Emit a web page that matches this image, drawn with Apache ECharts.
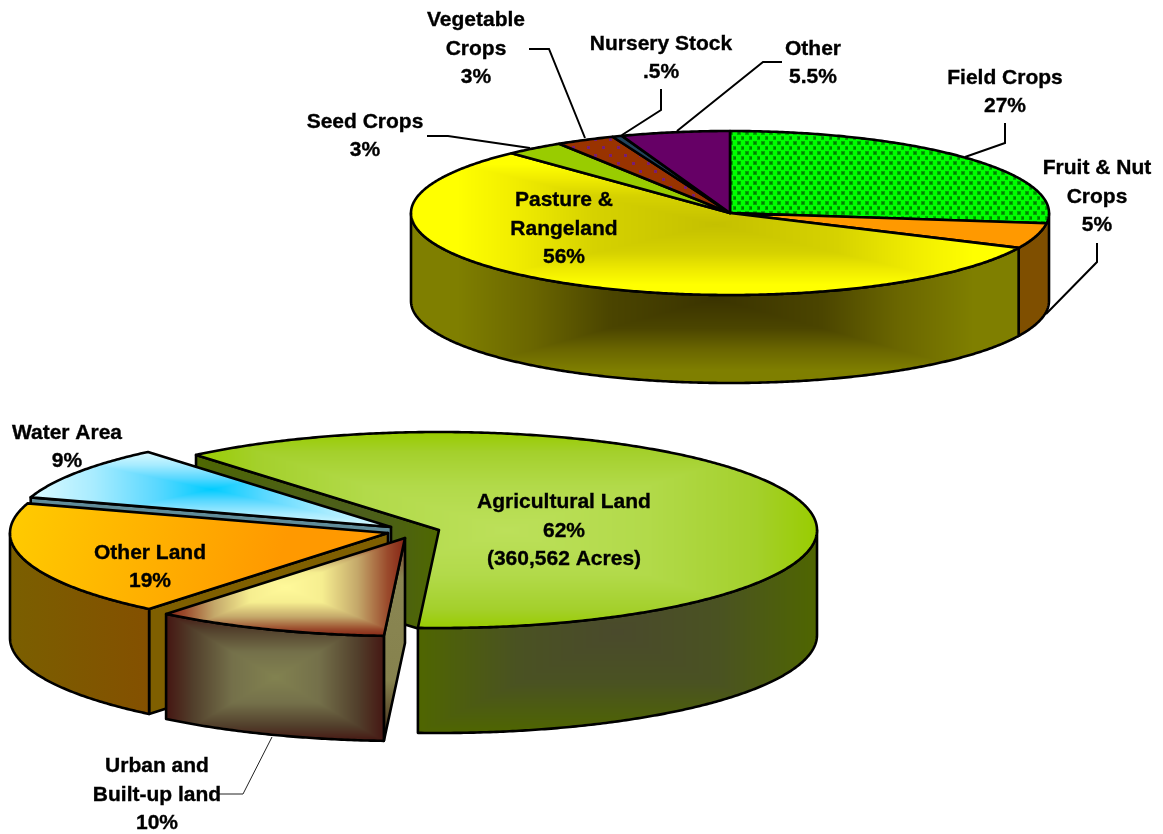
<!DOCTYPE html>
<html>
<head>
<meta charset="utf-8">
<title>Land use pies</title>
<script src="https://cdn.jsdelivr.net/npm/echarts@6/dist/echarts.min.js"></script>
<style>
  html, body { margin: 0; padding: 0; background: #fff; }
  #chart { width: 1163px; height: 834px; }
</style>
</head>
<body>
<div id="chart"></div>
<script>
// values, clockwise from each pie's start angle
const cropNames = ['Field Crops', 'Fruit & Nut\nCrops', 'Pasture &\nRangeland', 'Seed Crops', 'Vegetable\nCrops', 'Nursery Stock', 'Other'];
const cropValues = [27, 5, 56, 3, 3, 0.5, 5.5];
const landNames = ['Agricultural Land', 'Urban and\nBuilt-up land', 'Other Land', 'Water Area'];
const landValues = [62, 10, 19, 9];
const landNotes = ['(360,562 Acres)', '', '', ''];

// layout, kept away from the data
const cropLabelPos = [[1005, 92], [1097, 197], [564, 229], [365, 136], [476, 49], [661, 58], [813, 63]];
const cropLeaders = [
  [[1005, 123], [1005, 143], [965, 157]],
  [[1097, 243], [1097, 262], [1046, 314]],
  null,
  [[427, 136], [448, 136], [530, 148]],
  [[529, 49], [549, 49], [585, 138]],
  [[661, 89], [661, 110], [622, 135]],
  [[782, 62], [763, 62], [677, 131]]
];
const landLabelPos = [[564, 531], [157, 795], [150, 567], [67, 447]];
const landLeaders = [null, [[218, 794], [243, 794], [272, 737]], null, null];

const OUTLINE = '#000';
const PAGE_W = 1163, PAGE_H = 834;

function hexRgb(h) {
  return [1, 3, 5].map(i => parseInt(h.substr(i, 2), 16));
}

// office style "path" gradient: t runs 0 at the box centre to 1 at the box edge
function pathShade(pts, stops) {
  const xs = pts.map(p => p[0]), ys = pts.map(p => p[1]);
  const x0 = Math.floor(Math.min(...xs)), x1 = Math.ceil(Math.max(...xs));
  const y0 = Math.floor(Math.min(...ys)), y1 = Math.ceil(Math.max(...ys));
  const cx = (x0 + x1) / 2, cy = (y0 + y1) / 2, hw = (x1 - x0) / 2, hh = (y1 - y0) / 2;
  const cv = document.createElement('canvas');
  cv.width = PAGE_W; cv.height = PAGE_H;
  const ctx = cv.getContext('2d');
  const img = ctx.createImageData(x1 - x0 + 1, y1 - y0 + 1);
  const rgb = stops.map(s => hexRgb(s[1]));
  let n = 0;
  for (let y = y0; y <= y1; y++) {
    for (let x = x0; x <= x1; x++) {
      const t = Math.min(1, Math.max(Math.abs(x - cx) / hw, Math.abs(y - cy) / hh));
      let k = 0;
      while (k < stops.length - 2 && t > stops[k + 1][0]) k++;
      const f = Math.min(1, (t - stops[k][0]) / (stops[k + 1][0] - stops[k][0]));
      for (let c = 0; c < 3; c++) img.data[n++] = rgb[k][c] + (rgb[k + 1][c] - rgb[k][c]) * f;
      img.data[n++] = 255;
    }
  }
  ctx.putImageData(img, x0, y0);
  return { image: cv, repeat: 'no-repeat' };
}

function dotTile(w, h, bg, dots, size, color, core) {
  const cv = document.createElement('canvas');
  cv.width = w; cv.height = h;
  const ctx = cv.getContext('2d');
  ctx.fillStyle = bg;
  ctx.fillRect(0, 0, w, h);
  dots.forEach(d => {
    ctx.fillStyle = color;
    ctx.fillRect(d[0], d[1], size, size);
    if (core) {
      ctx.fillStyle = core;
      ctx.fillRect(d[0] + 1, d[1] + 1, size - 2, size - 2);
    }
  });
  return { image: cv, repeat: 'repeat' };
}

function linear(x2, y2, stops) {
  return { type: 'linear', x: 0, y: 0, x2: x2, y2: y2, colorStops: stops.map(s => ({ offset: s[0], color: s[1] })) };
}

const cropTops = [
  dotTile(8, 10, '#00ff00', [[1, 1], [5, 6]], 4, '#00aa00', '#008000'),
  '#ff9900',
  { stops: [[0, '#c4c000'], [0.4, '#d6d200'], [0.65, '#f0ec00'], [0.85, '#ffff00'], [1, '#ffff00']] },
  '#99cc00',
  dotTile(15, 16, '#993300', [[2, 2], [9, 10]], 3, '#7a1f70', '#6a1a80'),
  '#22445c',
  '#660066'
];
const cropWalls = [
  null,
  '#7f4f00',
  { stops: [[0, '#3a3300'], [0.35, '#4b4500'], [0.6, '#6a6600'], [0.85, '#7f7f00'], [1, '#7f7f00']] },
  null, null, null, null
];
// fruit wall also covers the sliver of field crop wall
const cropWallFrom = [null, 90];
const landTops = [
  { stops: [[0, '#bce05a'], [0.45, '#b2da4a'], [0.8, '#a4d02c'], [1, '#99cc00']] },
  { stops: [[0, '#fff99a'], [0.3, '#f6ee90'], [0.6, '#c4a86a'], [0.85, '#9a4a2c'], [1, '#862414']] },
  linear(1, 1, [[0, '#ffcc00'], [0.7, '#ff9900'], [1, '#ff9900']]),
  { stops: [[0, '#00ccff'], [0.3, '#5ad8ff'], [0.65, '#a8ecff'], [1, '#ddfaff']] }
];
const landWalls = [
  { stops: [[0, '#4a4a2c'], [0.5, '#4a5222'], [1, '#4f6600']] },
  { stops: [[0, '#828250'], [0.4, '#74704a'], [0.75, '#52402c'], [1, '#451612']] },
  linear(1, 0, [[0, '#7a5f00'], [1, '#845000']]),
  null
];
const landFaces = [
  { stops: [[0, '#4c5c26'], [0.6, '#4c6014'], [1, '#4f6800']] },
  linear(0, 1, [[0, '#7c3a28'], [0.2, '#8a8652'], [0.7, '#86824e'], [1, '#3e2414']]),
  '#7f5f00',
  '#608c99'
];

function resolveFill(spec, pts) {
  if (spec && spec.stops) return pathShade(pts, spec.stops);
  return spec;
}

// pts on the tilted rim; angle in degrees clockwise from 12 o'clock
function rim(g, deg, drop) {
  const r = deg * Math.PI / 180;
  return [g.cx + g.rx * Math.sin(r), g.cy - g.ry * Math.cos(r) + (drop || 0)];
}

function arcPts(g, a, b, drop) {
  const pts = [], n = Math.max(2, Math.ceil(Math.abs(b - a) * 2));
  for (let i = 0; i <= n; i++) pts.push(rim(g, a + (b - a) * i / n, drop));
  return pts;
}

function poly(pts, fill, z2) {
  return {
    type: 'polygon', z2: z2, shape: { points: pts },
    style: { fill: resolveFill(fill, pts), stroke: OUTLINE, lineWidth: 2.6, lineJoin: 'round' }
  };
}

function percent(v) {
  return String(v).replace(/^0\./, '.') + '%';
}

function makeRender(cfg) {
  const total = cfg.values.reduce((s, v) => s + v, 0);
  const built = {};
  return function (params, api) {
    const i = params.dataIndex;
    if (built[i]) return built[i];
    const before = cfg.values.slice(0, i).reduce((s, v) => s + v, 0);
    const a = cfg.start + before / total * 360;
    const b = a + api.value(0) / total * 360;
    const g = cfg.geo[i];
    const base = cfg.order[i] * 10;
    const kids = [];
    const apex = [g.cx, g.cy];

    // cut faces of pulled out slices
    if (cfg.faces && Math.sin(a * Math.PI / 180) < 0) {
      const r = rim(g, a), rd = rim(g, a, g.depth);
      kids.push(poly([apex, r, rd, [g.cx, g.cy + g.depth]], cfg.faces[i], base));
    }
    // outer wall, front half only
    if (cfg.walls[i]) {
      const from = cfg.wallFrom && cfg.wallFrom[i] != null ? cfg.wallFrom[i] : a;
      [0, 360].forEach(k => {
        const lo = Math.max(from, 90 + k), hi = Math.min(b, 270 + k);
        if (hi > lo) {
          const top = arcPts(g, lo, hi, 0);
          const bottom = arcPts(g, hi, lo, g.depth);
          kids.push(poly(top.concat(bottom), cfg.walls[i], base + 1));
        }
      });
    }
    // top face
    kids.push(poly([apex].concat(arcPts(g, a, b, 0)), cfg.tops[i], base + 2));

    if (cfg.leaders[i]) {
      kids.push({
        type: 'polyline', z2: 200, shape: { points: cfg.leaders[i] },
        style: { fill: null, stroke: cfg.leaderColor[i] || OUTLINE, lineWidth: cfg.leaderWidth[i] || 2 }
      });
    }
    const lines = [api.value(1).replace(/\\n/g, '\n'), percent(api.value(0))];
    if (cfg.notes && cfg.notes[i]) lines.push(cfg.notes[i]);
    kids.push({
      type: 'text', z2: 300, x: cfg.labelPos[i][0], y: cfg.labelPos[i][1],
      style: {
        text: lines.join('\n'), fill: '#000', stroke: '#000', lineWidth: 0.35,
        align: 'center', verticalAlign: 'middle',
        fontFamily: '"Liberation Sans", Arial, sans-serif', fontWeight: 'bold', fontSize: 21, lineHeight: 28.3
      }
    });
    built[i] = { type: 'group', children: kids };
    return built[i];
  };
}

const cropGeo = { cx: 730, cy: 213, rx: 319, ry: 82, depth: 88 };
const cropRender = makeRender({
  values: cropValues, start: 0, labelPos: cropLabelPos, leaders: cropLeaders,
  tops: cropTops, walls: cropWalls, wallFrom: cropWallFrom,
  geo: cropValues.map(() => cropGeo),
  order: cropValues.map(() => 1),
  leaderColor: [], leaderWidth: []
});

// each slice of the lower pie is pulled out on its own
const landGeo = [
  { cx: 439, cy: 530, rx: 378, ry: 98, depth: 105 },
  { cx: 405, cy: 538, rx: 378, ry: 98, depth: 105 },
  { cx: 388, cy: 533, rx: 378, ry: 98, depth: 105 },
  { cx: 391, cy: 527, rx: 378, ry: 98, depth: 105 }
];
const landRender = makeRender({
  values: landValues, start: 320, labelPos: landLabelPos, leaders: landLeaders, notes: landNotes,
  tops: landTops, walls: landWalls, faces: landFaces,
  geo: landGeo,
  order: [2, 5, 4, 3],
  leaderColor: [null, '#222'], leaderWidth: [null, 1]
});

const chart = echarts.init(document.getElementById('chart'));
chart.setOption({
  backgroundColor: '#fff',
  animation: false,
  series: [
    {
      type: 'custom', name: 'Crops', coordinateSystem: 'none', silent: true,
      renderItem: cropRender,
      data: cropValues.map((v, i) => [v, cropNames[i]])
    },
    {
      type: 'custom', name: 'Land', coordinateSystem: 'none', silent: true,
      renderItem: landRender,
      data: landValues.map((v, i) => [v, landNames[i]])
    }
  ]
});
</script>
</body>
</html>
